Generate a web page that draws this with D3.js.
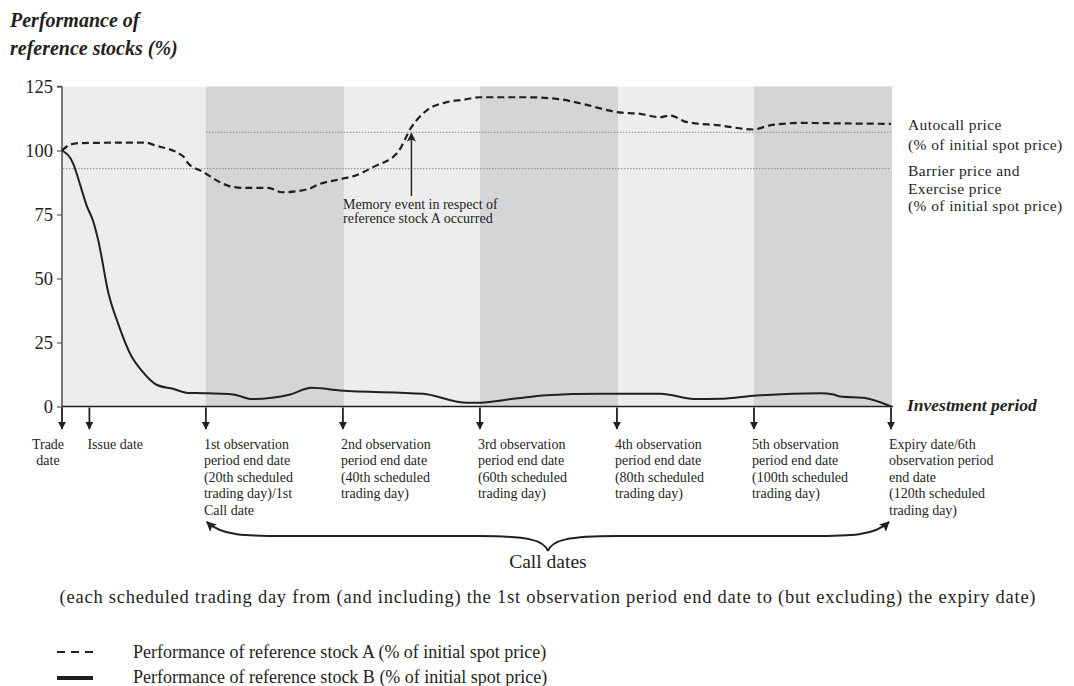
<!DOCTYPE html>
<html><head><meta charset="utf-8">
<script src="https://cdn.jsdelivr.net/npm/d3@7"></script>
<style>
html,body{margin:0;padding:0;background:#fff;}
text{font-family:"Liberation Serif","Times New Roman",serif;fill:#231f20;}
</style></head>
<body><svg id="c" width="1074" height="686"></svg>
<script>
// ---- data ----
const daysA = [-1, 0.2, 1.6, 11.1, 12.6, 16.7, 17.4, 19.4, 23.2, 25.2, 29.1, 31.1, 34.9, 36.4, 39.8, 41.8, 44.4, 48.0, 50.0, 52.2, 55.2, 57.5, 60.0, 66.8, 71.2, 75.0, 80.0, 83.4, 86.3, 87.7, 90.2, 95.0, 99.9, 102.3, 107.2, 109.6, 120];
const stockA = [100, 102.3, 102.9, 103.1, 102, 97.7, 95, 91.9, 86.3, 85.4, 85.4, 83.7, 84.9, 86.7, 88.9, 90.2, 93.5, 99.3, 109.1, 115.6, 118.9, 119.8, 120.8, 120.8, 120.2, 118.2, 115, 114.3, 113, 113.7, 111.1, 109.8, 108.2, 109.8, 110.8, 110.7, 110.4];
const daysB = [-1, 0.65, 1.6, 2.6, 3.6, 4.3, 5.8, 7.2, 9.2, 10.6, 12.8, 15.2, 17.4, 19.6, 24.0, 26.7, 32.3, 35.4, 39.6, 51.7, 58.1, 59.5, 64.9, 69.7, 77.5, 86.3, 91.6, 95.0, 100.4, 109.7, 111.6, 112.6, 116.0, 120];
const stockB = [100, 94.8, 87, 78.5, 72, 64.8, 44, 32.3, 19.3, 14.1, 8.5, 6.9, 5.3, 5.2, 4.7, 2.9, 4.7, 7.3, 6.25, 4.95, 1.45, 1.45, 3.0, 4.4, 4.95, 4.95, 2.9, 3.0, 4.3, 5.2, 4.7, 3.9, 3.4, 0];
const yTicks = [0, 25, 50, 75, 100, 125];
const darkBands = [[20, 40], [60, 80], [100, 120]];
const autocallLevel = 107.1;
const barrierLevel = 92.9;
const obsDays = [-1, 3, 20, 40, 60, 80, 100, 120];
const obsLabels = [
  ["Trade", "date"],
  ["Issue date"],
  ["1st observation", "period end date", "(20th scheduled", "trading day)/1st", "Call date"],
  ["2nd observation", "period end date", "(40th scheduled", "trading day)"],
  ["3rd observation", "period end date", "(60th scheduled", "trading day)"],
  ["4th observation", "period end date", "(80th scheduled", "trading day)"],
  ["5th observation", "period end date", "(100th scheduled", "trading day)"],
  ["Expiry date/6th", "observation period", "end date", "(120th scheduled", "trading day)"]
];
const titleLines = ["Performance of", "reference stocks (%)"];
const autocallLabel = ["Autocall price", "(% of initial spot price)"];
const barrierLabel = ["Barrier price and", "Exercise price", "(% of initial spot price)"];
const memoryLabel = ["Memory event in respect of", "reference stock A occurred"];
const legendLabels = ["Performance of reference stock A (% of initial spot price)", "Performance of reference stock B (% of initial spot price)"];

// ---- layout ----
const svg = d3.select("#c");
const x = d3.scaleLinear().domain([-1, 120]).range([62, 891]);
const y = d3.scaleLinear().domain([0, 125]).range([406.5, 86.5]);
const ink = "#231f20";

const defs = svg.append("defs");
defs.append("marker").attr("id", "ah").attr("viewBox", "0 0 10 10").attr("refX", 9).attr("refY", 5)
  .attr("markerWidth", 8).attr("markerHeight", 8).attr("markerUnits", "userSpaceOnUse").attr("orient", "auto-start-reverse")
  .append("path").attr("d", "M0,0 L10,5 L0,10 Z").attr("fill", ink);
defs.append("marker").attr("id", "ahBrace").attr("viewBox", "0 0 10 10").attr("refX", 9).attr("refY", 5)
  .attr("markerWidth", 11).attr("markerHeight", 10).attr("markerUnits", "userSpaceOnUse").attr("orient", "auto-start-reverse")
  .append("path").attr("d", "M0,0 L10,5 L0,10 L2,5 Z").attr("fill", ink);
defs.append("marker").attr("id", "ahBig").attr("viewBox", "0 0 10 10").attr("refX", 9).attr("refY", 5)
  .attr("markerWidth", 13).attr("markerHeight", 9).attr("markerUnits", "userSpaceOnUse").attr("orient", "auto-start-reverse")
  .append("path").attr("d", "M0,0 L10,5 L0,10 L2,5 Z").attr("fill", ink);

// backgrounds
svg.append("rect").attr("x", x(-1) + 1).attr("y", y(125)).attr("width", x(120) + 1 - x(-1) - 1).attr("height", y(0) - y(125)).attr("fill", "#ededed");
svg.selectAll("rect.band").data(darkBands).join("rect").attr("class", "band")
  .attr("x", d => x(d[0])).attr("y", y(125)).attr("width", d => x(d[1]) - x(d[0]) + 1).attr("height", y(0) - y(125)).attr("fill", "#d4d5d7");

// reference dotted lines
svg.append("line").attr("x1", x(20)).attr("x2", x(120)).attr("y1", y(autocallLevel)).attr("y2", y(autocallLevel))
  .attr("stroke", "#8a8a8a").attr("stroke-width", 1).attr("stroke-dasharray", "1.5,1.5");
svg.append("line").attr("x1", x(-1) + 1).attr("x2", x(120)).attr("y1", y(barrierLevel)).attr("y2", y(barrierLevel))
  .attr("stroke", "#8a8a8a").attr("stroke-width", 1).attr("stroke-dasharray", "1.5,1.5");

// y axis
const yAxis = d3.axisLeft(y).tickValues(yTicks).tickSize(5).tickPadding(4);
const ga = svg.append("g").attr("transform", `translate(${x(-1)},0)`).call(yAxis);
ga.select(".domain").attr("stroke", "#555").attr("stroke-width", 1.6).attr("d", `M0,${y(125)}V${y(0) + 1}M-5,${y(125)}H0`);
ga.selectAll(".tick line").attr("stroke", "#555").attr("stroke-width", 1.2);
ga.selectAll(".tick text").attr("font-size", 18.5).attr("font-family", "Liberation Serif").attr("fill", ink);

// x axis
const xAxis = d3.axisBottom(x).tickValues([]).tickSizeOuter(0);
const gx = svg.append("g").attr("transform", `translate(0,${y(0)})`).call(xAxis);
gx.select(".domain").attr("stroke", ink).attr("stroke-width", 1.6).attr("d", `M${x(-1)},0H${x(120) + 2}`);

// lines
const lineGen = d3.line().x(d => x(d[0])).y(d => y(d[1])).curve(d3.curveMonotoneX);
svg.append("path").datum(daysA.map((d, i) => [d, stockA[i]])).attr("d", lineGen)
  .attr("fill", "none").attr("stroke", ink).attr("stroke-width", 2.2).attr("stroke-dasharray", "7,4");
svg.append("path").datum(daysB.map((d, i) => [d, stockB[i]])).attr("d", lineGen)
  .attr("fill", "none").attr("stroke", ink).attr("stroke-width", 2);

// memory event arrow
svg.append("line").attr("x1", x(50)).attr("x2", x(50)).attr("y1", 196).attr("y2", y(autocallLevel) + 1)
  .attr("stroke", ink).attr("stroke-width", 1.4).attr("marker-end", "url(#ahBig)");
svg.selectAll("text.mem").data(memoryLabel).join("text").attr("class", "mem")
  .attr("x", 343).attr("y", (d, i) => 209 + i * 13.5).attr("font-size", 14).text(d => d);

// right labels
svg.selectAll("text.ac").data(autocallLabel).join("text").attr("class", "ac")
  .attr("x", 908).attr("y", (d, i) => 130 + i * 20).attr("font-size", 15.5).attr("letter-spacing", 0.4).text(d => d);
svg.selectAll("text.br").data(barrierLabel).join("text").attr("class", "br")
  .attr("x", 908).attr("y", (d, i) => 176 + i * 17.5).attr("font-size", 15.5).attr("letter-spacing", 0.4).text(d => d);

// title
svg.selectAll("text.title").data(titleLines).join("text").attr("class", "title")
  .attr("x", 10).attr("y", (d, i) => 27 + i * 28).attr("font-size", 20).attr("font-weight", "bold").attr("font-style", "italic").text(d => d);

// investment period
svg.append("text").attr("x", 907).attr("y", 411).attr("font-size", 17.5).attr("font-weight", "bold").attr("font-style", "italic").text("Investment period");

// date arrows
svg.selectAll("line.darr").data(obsDays).join("line").attr("class", "darr")
  .attr("x1", d => x(d)).attr("x2", d => x(d)).attr("y1", y(0) + 1).attr("y2", 429)
  .attr("stroke", ink).attr("stroke-width", 1.8).attr("marker-end", "url(#ah)");

// date labels
const lg = svg.selectAll("g.dl").data(obsDays).join("g").attr("class", "dl");
lg.each(function (d, i) {
  const g = d3.select(this);
  const first = i === 0;
  g.selectAll("text").data(obsLabels[i]).join("text")
    .attr("x", first ? x(d) - 14 : x(d) - 2)
    .attr("text-anchor", first ? "middle" : "start")
    .attr("y", (t, j) => 449 + j * 16.4).attr("font-size", 14).text(t => t);
});

// brace
const bL = x(20), bR = x(120) - 1, bC = (bL + bR) / 2, bY = 536;
const brace = d3.path();
brace.moveTo(bL + 1, 522);
brace.bezierCurveTo(bL + 16, bY, bL + 40, bY, bL + 80, bY);
brace.lineTo(bC - 70, bY);
brace.bezierCurveTo(bC - 20, bY, bC - 4, bY + 4, bC, bY + 15);
brace.moveTo(bC, bY + 15);
brace.bezierCurveTo(bC + 4, bY + 4, bC + 20, bY, bC + 70, bY);
brace.lineTo(bR - 80, bY);
brace.bezierCurveTo(bR - 40, bY, bR - 16, bY, bR - 1, 522);
svg.append("path").attr("d", brace.toString()).attr("fill", "none").attr("stroke", ink).attr("stroke-width", 2)
  .attr("marker-end", "url(#ahBrace)").attr("marker-start", "url(#ahBrace)");

svg.append("text").attr("x", bC).attr("y", 568).attr("text-anchor", "middle").attr("font-size", 19.5).text("Call dates");
svg.append("text").attr("x", bC).attr("y", 603).attr("text-anchor", "middle").attr("font-size", 18.5).attr("letter-spacing", 0.75)
  .text("(each scheduled trading day from (and including) the 1st observation period end date to (but excluding) the expiry date)");

// legend
svg.append("line").attr("x1", 57).attr("x2", 93).attr("y1", 652).attr("y2", 652).attr("stroke", ink).attr("stroke-width", 2).attr("stroke-dasharray", "8,6");
svg.append("line").attr("x1", 57).attr("x2", 93).attr("y1", 678).attr("y2", 678).attr("stroke", ink).attr("stroke-width", 4);
svg.selectAll("text.leg").data(legendLabels).join("text").attr("class", "leg")
  .attr("x", 133).attr("y", (d, i) => 658 + i * 25).attr("font-size", 18).text(d => d);
</script></body></html>
